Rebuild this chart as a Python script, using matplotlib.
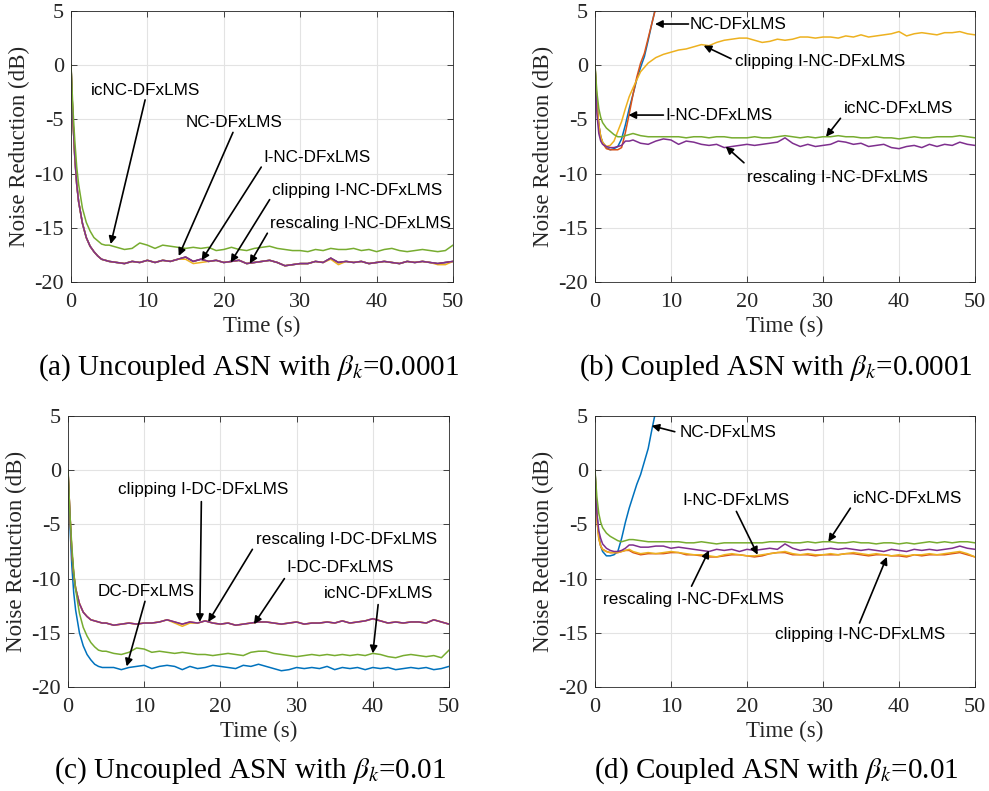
"""
Noise reduction curves of the DFxLMS variants, four ASN scenarios (2x2 panels).
Output: out.png
"""

import matplotlib.pyplot as plt

plt.rcParams["font.family"] = ["Liberation Serif", "DejaVu Serif"]
plt.rcParams["mathtext.fontset"] = "stix"
plt.rcParams["axes.unicode_minus"] = False

# ── time grids (s) ───────────────────────────────────────────────────────────
T = [0, 0.25, 0.5, 0.75, 1, 1.5, 2, 2.5, 3, 3.5, 4, 4.5, 5] + list(range(6, 51))
T_DIV = [0, 0.25, 0.5, 0.75, 1, 1.5, 2, 2.5, 3, 3.5, 4, 4.5, 5,
         5.5, 6, 6.5, 7, 7.5, 8, 8.5]

# ── (a) uncoupled, beta = 0.0001 ─────────────────────────────────────────────
a_ic = [0, -4.0, -7.0, -9.4, -11.0, -13.2, -14.5, -15.3, -15.9, -16.2, -16.5, -16.6, -16.6,
        -16.8, -17.0, -16.9, -16.4, -16.6, -16.9, -16.6, -16.7, -16.8, -16.9,
        -16.8, -16.9, -16.8, -17.1, -17.0, -16.8, -17.0, -17.1, -16.9, -16.8,
        -16.7, -16.9, -17.0, -17.1, -17.1, -17.2, -17.0, -17.1, -16.9, -17.0,
        -17.0, -16.9, -17.1, -17.0, -17.2, -17.0, -16.9, -17.1, -17.2, -17.1,
        -17.0, -17.1, -17.2, -17.1, -16.6]
a_resc = [0, -5.0, -8.5, -11.0, -12.6, -14.6, -15.9, -16.7, -17.2, -17.6, -17.9, -18.0, -18.1,
          -18.2, -18.3, -18.1, -18.2, -18.0, -18.2, -18.0, -18.1, -17.9, -17.7,
          -18.1, -17.9, -18.1, -18.0, -18.2, -18.1, -18.0, -18.3, -18.2, -18.1,
          -18.0, -18.2, -18.5, -18.4, -18.3, -18.3, -18.1, -18.2, -17.8, -18.2,
          -18.1, -18.2, -18.1, -18.3, -18.2, -18.1, -18.2, -18.3, -18.1, -18.2,
          -18.1, -18.2, -18.3, -18.2, -18.1]
a_clip = [0, -5.0, -8.5, -11.0, -12.6, -14.6, -15.9, -16.7, -17.2, -17.6, -17.9, -18.0, -18.1,
          -18.2, -18.3, -18.1, -18.2, -18.0, -18.2, -18.0, -18.1, -17.9, -17.9,
          -18.3, -18.2, -18.1, -18.0, -18.2, -18.1, -18.0, -18.3, -18.2, -18.1,
          -18.0, -18.2, -18.5, -18.4, -18.3, -18.3, -18.1, -18.2, -17.9, -18.4,
          -18.1, -18.2, -18.1, -18.3, -18.2, -18.1, -18.2, -18.3, -18.1, -18.2,
          -18.1, -18.2, -18.4, -18.4, -18.1]
a_nc = list(a_resc)    # these two coincide with the rescaling curve
a_inc = list(a_resc)

# ── (b) coupled, beta = 0.0001 ───────────────────────────────────────────────
b_nc = [0, -3.5, -5.5, -6.6, -7.1, -7.6, -7.8, -7.7, -7.5, -6.8, -5.5, -4.0, -2.7,
        -1.3, -0.2, 0.8, 2.3, 3.9, 5.4, 7.0]
b_inc = [0, -3.5, -5.5, -6.6, -7.2, -7.7, -7.8, -7.8, -7.8, -7.6, -6.2, -4.5, -2.7,
         -1.1, 0.2, 1.1, 2.5, 3.9, 5.3, 6.8]
b_clip = [0, -3.5, -5.5, -6.6, -7.1, -7.5, -7.4, -7.0, -6.1, -5.2, -4.0, -2.9, -2.1,
          -0.6, 0.2, 0.7, 1.0, 1.2, 1.4, 1.5, 1.7, 1.9, 1.8,
          2.1, 2.3, 2.4, 2.5, 2.5, 2.3, 2.1, 2.2, 2.4, 2.3,
          2.4, 2.6, 2.6, 2.5, 2.6, 2.6, 2.5, 2.7, 2.6, 2.8,
          2.6, 2.7, 2.8, 2.9, 3.1, 2.7, 2.9, 3.0, 2.9, 2.8,
          3.0, 3.0, 3.1, 2.9, 2.8]
b_ic = [0, -2.5, -4.0, -4.8, -5.3, -5.8, -6.1, -6.4, -6.6, -6.6, -6.5, -6.4, -6.3,
        -6.5, -6.6, -6.6, -6.6, -6.6, -6.6, -6.7, -6.6, -6.6, -6.7,
        -6.6, -6.6, -6.7, -6.7, -6.7, -6.6, -6.7, -6.7, -6.6, -6.5,
        -6.6, -6.7, -6.6, -6.7, -6.6, -6.6, -6.5, -6.6, -6.6, -6.7,
        -6.7, -6.6, -6.7, -6.7, -6.8, -6.7, -6.6, -6.7, -6.7, -6.6,
        -6.6, -6.6, -6.5, -6.6, -6.7]
b_resc = [0, -4.5, -6.3, -7.0, -7.3, -7.5, -7.6, -7.6, -7.5, -7.4, -7.0, -7.0, -6.9,
          -7.2, -7.3, -7.0, -6.8, -6.9, -7.3, -7.0, -7.1, -7.3, -7.4,
          -7.3, -7.6, -7.5, -7.4, -7.3, -7.4, -7.3, -7.2, -7.1, -6.7,
          -7.2, -7.5, -7.3, -7.5, -7.4, -7.3, -7.0, -7.1, -7.3, -7.2,
          -7.5, -7.4, -7.3, -7.6, -7.7, -7.5, -7.4, -7.6, -7.3, -7.5,
          -7.3, -7.4, -7.1, -7.3, -7.4]

# ── (c) uncoupled, beta = 0.01 ───────────────────────────────────────────────
c_ic = [0, -4.0, -7.0, -9.4, -11.0, -13.2, -14.5, -15.3, -15.9, -16.3, -16.6, -16.7, -16.7,
        -16.9, -17.0, -16.8, -16.4, -16.5, -16.8, -16.7, -16.8, -16.9, -16.8,
        -16.9, -17.0, -17.0, -17.1, -17.0, -16.9, -17.0, -17.1, -16.8, -16.7,
        -16.7, -16.9, -17.0, -17.1, -17.2, -17.1, -17.0, -17.1, -17.0, -17.1,
        -17.0, -17.1, -17.0, -17.1, -16.9, -17.0, -17.2, -17.3, -17.1, -17.0,
        -17.1, -17.2, -17.1, -17.3, -16.6]
c_dc = [0, -5.0, -8.8, -11.3, -12.9, -15.0, -16.2, -17.0, -17.5, -17.9, -18.1, -18.2, -18.2,
        -18.2, -18.4, -18.2, -18.1, -18.0, -18.3, -18.1, -18.0, -18.1, -18.4,
        -18.1, -18.3, -18.2, -18.0, -18.1, -18.2, -18.3, -18.0, -18.1, -17.9,
        -18.1, -18.3, -18.5, -18.4, -18.2, -18.3, -18.2, -18.3, -18.1, -18.4,
        -18.2, -18.3, -18.2, -18.4, -18.2, -18.3, -18.2, -18.4, -18.3, -18.2,
        -18.3, -18.2, -18.4, -18.3, -18.1]
c_resc = [0, -4.0, -7.5, -9.6, -10.9, -12.3, -13.1, -13.5, -13.8, -13.9, -14.0, -14.1, -14.1,
          -14.3, -14.2, -14.1, -14.2, -14.1, -14.1, -14.0, -13.8, -14.0, -14.2,
          -14.0, -14.1, -13.9, -14.1, -14.2, -14.1, -14.3, -14.2, -14.1, -14.0,
          -14.0, -14.1, -14.2, -14.1, -14.0, -14.2, -14.1, -14.1, -14.0, -14.1,
          -13.9, -14.1, -14.0, -13.9, -13.7, -13.9, -14.1, -14.0, -14.1, -14.0,
          -14.0, -14.1, -13.8, -14.0, -14.2]
c_clip = [0, -4.0, -7.5, -9.6, -10.9, -12.3, -13.1, -13.5, -13.8, -13.9, -14.0, -14.1, -14.1,
          -14.3, -14.2, -14.1, -14.2, -14.1, -14.1, -14.0, -13.8, -14.1, -14.4,
          -14.1, -14.1, -13.9, -14.1, -14.2, -14.1, -14.3, -14.2, -14.1, -14.0,
          -14.0, -14.1, -14.2, -14.1, -14.0, -14.2, -14.1, -14.1, -14.0, -14.1,
          -13.9, -14.1, -14.0, -13.9, -13.7, -13.9, -14.1, -14.0, -14.1, -14.0,
          -14.0, -14.1, -13.8, -14.0, -14.2]
c_idc = list(c_resc)   # coincides with the rescaling curve

# ── (d) coupled, beta = 0.01 ─────────────────────────────────────────────────
d_nc = [0, -4.0, -6.0, -7.0, -7.5, -7.9, -7.9, -7.8, -7.5, -6.3, -4.8, -3.5, -2.4,
        -1.3, -0.4, 0.8, 2.0, 3.8, 5.5, 7.0]
d_ic = [0, -2.5, -4.0, -4.8, -5.3, -5.8, -6.1, -6.3, -6.5, -6.6, -6.5, -6.4, -6.4,
        -6.5, -6.6, -6.6, -6.6, -6.6, -6.6, -6.7, -6.7, -6.6, -6.7,
        -6.8, -6.7, -6.7, -6.7, -6.7, -6.7, -6.7, -6.6, -6.6, -6.6,
        -6.7, -6.7, -6.6, -6.7, -6.6, -6.6, -6.7, -6.7, -6.6, -6.7,
        -6.7, -6.8, -6.7, -6.7, -6.8, -6.7, -6.8, -6.7, -6.6, -6.7,
        -6.6, -6.7, -6.6, -6.6, -6.7]
d_resc = [0, -4.0, -5.6, -6.3, -6.8, -7.2, -7.4, -7.5, -7.5, -7.4, -7.2, -6.9, -6.9,
          -7.1, -7.1, -7.0, -7.0, -7.2, -7.1, -7.2, -7.3, -7.4, -7.5,
          -7.3, -7.4, -7.3, -7.5, -7.3, -7.4, -7.3, -7.2, -7.3, -6.8,
          -7.2, -7.4, -7.3, -7.4, -7.3, -7.2, -7.3, -7.2, -7.3, -7.4,
          -7.3, -7.4, -7.5, -7.3, -7.4, -7.5, -7.3, -7.4, -7.3, -7.4,
          -7.3, -7.2, -7.0, -7.2, -7.3]
d_clip = [0, -4.5, -6.3, -7.0, -7.3, -7.5, -7.6, -7.6, -7.6, -7.5, -7.4, -7.3, -7.5,
          -7.7, -7.6, -7.7, -7.6, -7.5, -7.6, -7.7, -7.8, -7.8, -7.9,
          -8.0, -7.8, -7.7, -7.8, -7.9, -7.9, -7.8, -7.7, -7.6, -7.5,
          -7.7, -7.8, -7.7, -7.8, -7.8, -7.7, -7.8, -7.7, -7.6, -7.7,
          -7.8, -7.7, -7.8, -7.9, -7.8, -7.9, -7.8, -7.8, -7.7, -7.8,
          -7.7, -7.6, -7.5, -7.7, -8.0]
d_inc = [0, -4.5, -6.3, -7.0, -7.3, -7.5, -7.6, -7.6, -7.6, -7.5, -7.4, -7.4, -7.6,
         -7.8, -7.7, -7.7, -7.7, -7.6, -7.6, -7.8, -7.8, -7.9, -8.0,
         -8.0, -7.9, -7.8, -7.8, -7.9, -8.0, -7.9, -7.7, -7.6, -7.6,
         -7.8, -7.8, -7.8, -7.9, -7.8, -7.8, -7.8, -7.7, -7.7, -7.8,
         -7.9, -7.8, -7.8, -7.9, -7.9, -8.0, -7.8, -7.9, -7.8, -7.8,
         -7.8, -7.7, -7.6, -7.8, -8.0]

CAPTIONS = [r"(a) Uncoupled ASN with $\beta_k$=0.0001",
            r"(b) Coupled ASN with $\beta_k$=0.0001",
            r"(c) Uncoupled ASN with $\beta_k$=0.01",
            r"(d) Coupled ASN with $\beta_k$=0.01"]

# MATLAB default colour order
BLUE, RED, YELLOW, PURPLE, GREEN = "#0072BD", "#D95319", "#EDB120", "#7E2F8E", "#77AC30"

# (text, text_x, text_y, ha, arrow start, arrow tip)  -- in data units
LABELS = [
    [("icNC-DFxLMS", 9.8, -2.3, "center", (9.7, -3.2), (5.2, -16.5)),
     ("NC-DFxLMS", 21.4, -5.3, "center", (21.2, -6.2), (14.1, -17.6)),
     ("I-NC-DFxLMS", 32.2, -8.5, "center", (24.9, -9.4), (17.1, -18.0)),
     ("clipping I-NC-DFxLMS", 37.5, -11.6, "center", (26.0, -12.4), (20.9, -18.2)),
     ("rescaling I-NC-DFxLMS", 37.9, -14.6, "center", (25.7, -15.5), (23.4, -18.3))],
    [("NC-DFxLMS", 12.5, 3.8, "left", (12.3, 3.8), (7.9, 3.8)),
     ("clipping I-NC-DFxLMS", 18.4, 0.3, "left", (17.9, 0.6), (14.3, 1.8)),
     ("I-NC-DFxLMS", 9.2, -4.6, "left", (9.0, -4.6), (4.4, -4.6)),
     ("icNC-DFxLMS", 39.9, -4.0, "center", (32.3, -4.9), (30.4, -6.6)),
     ("rescaling I-NC-DFxLMS", 31.9, -10.4, "center", (19.6, -9.0), (17.2, -7.5))],
    [("clipping I-DC-DFxLMS", 17.8, -1.8, "center", (17.5, -2.9), (17.3, -14.0)),
     ("rescaling I-DC-DFxLMS", 36.5, -6.4, "center", (24.2, -7.3), (18.4, -14.0)),
     ("I-DC-DFxLMS", 35.7, -9.0, "center", (28.4, -10.0), (24.4, -14.2)),
     ("icNC-DFxLMS", 40.8, -11.4, "center", (40.7, -12.4), (40.0, -16.9)),
     ("DC-DFxLMS", 10.3, -11.2, "center", (10.1, -12.1), (7.7, -18.1))],
    [("NC-DFxLMS", 11.1, 3.5, "left", (10.5, 3.55), (7.45, 4.1)),
     ("I-NC-DFxLMS", 18.6, -2.75, "center", (18.6, -3.8), (21.4, -7.8)),
     ("icNC-DFxLMS", 41.1, -2.6, "center", (33.6, -3.5), (30.7, -6.6)),
     ("rescaling I-NC-DFxLMS", 12.9, -11.9, "center", (12.7, -10.7), (15.0, -7.4)),
     ("clipping I-NC-DFxLMS", 34.9, -15.2, "center", (34.8, -14.1), (38.4, -8.0))],
]


def style_axes(ax):
    ax.set_xlim(0, 50)
    ax.set_ylim(-20, 5)
    ax.set_xticks(range(0, 51, 10))
    ax.set_yticks(range(-20, 6, 5))
    ax.grid(True, color="#e3e3e3", linewidth=0.8)
    ax.set_axisbelow(True)
    ax.tick_params(direction="in", top=True, right=True, labelsize=16,
                   colors="#262626", length=4, width=0.6, pad=5)
    ax.tick_params(axis="x", pad=8)
    for s in ax.spines.values():
        s.set_color("#262626")
        s.set_linewidth(0.6)
    ax.set_xlabel("Time (s)", fontsize=16.5, color="#262626", labelpad=3)
    ax.set_ylabel("Noise Reduction (dB)", fontsize=16.5, color="#262626", labelpad=3)


def add_labels(ax, items):
    for text, tx, ty, ha, start, tip in items:
        ax.text(tx, ty, text, ha=ha, va="center", fontsize=12.3,
                family=["Liberation Sans", "DejaVu Sans"])
        ax.annotate("", xy=tip, xytext=start,
                    arrowprops=dict(arrowstyle="-|>", color="k", lw=1.2,
                                    mutation_scale=11, shrinkA=0, shrinkB=0))


def main():
    fig = plt.figure(figsize=(9.89, 7.91), dpi=100)
    W, H = 989, 791
    boxes = [(71, 11, 453, 282), (595, 11, 975, 282),
             (68, 416, 449, 687), (595, 416, 975, 687)]
    axes = [fig.add_axes([x0 / W, 1 - y1 / H, (x1 - x0) / W, (y1 - y0) / H])
            for x0, y0, x1, y1 in boxes]
    lw = 1.1

    # (a)
    ax = axes[0]
    ax.plot(T, a_nc, color=BLUE, lw=lw)
    ax.plot(T, a_inc, color=RED, lw=lw)
    ax.plot(T, a_clip, color=YELLOW, lw=lw)
    ax.plot(T, a_resc, color=PURPLE, lw=lw)
    ax.plot(T, a_ic, color=GREEN, lw=lw)

    # (b)
    ax = axes[1]
    ax.plot(T_DIV, b_nc, color=BLUE, lw=lw)
    ax.plot(T_DIV, b_inc, color=RED, lw=lw)
    ax.plot(T, b_clip, color=YELLOW, lw=lw)
    ax.plot(T, b_resc, color=PURPLE, lw=lw)
    ax.plot(T, b_ic, color=GREEN, lw=lw)

    # (c)
    ax = axes[2]
    ax.plot(T, c_dc, color=BLUE, lw=lw)
    ax.plot(T, c_idc, color=RED, lw=lw)
    ax.plot(T, c_clip, color=YELLOW, lw=lw)
    ax.plot(T, c_resc, color=PURPLE, lw=lw)
    ax.plot(T, c_ic, color=GREEN, lw=lw)

    # (d)
    ax = axes[3]
    ax.plot(T_DIV, d_nc, color=BLUE, lw=lw)
    ax.plot(T, d_inc, color=RED, lw=lw)
    ax.plot(T, d_clip, color=YELLOW, lw=lw)
    ax.plot(T, d_resc, color=PURPLE, lw=lw)
    ax.plot(T, d_ic, color=GREEN, lw=lw)

    for ax, items in zip(axes, LABELS):
        style_axes(ax)
        add_labels(ax, items)

    caption_pos = [(249, 368), (776, 368), (250, 771), (776, 771)]
    for (cx, cy), cap in zip(caption_pos, CAPTIONS):
        fig.text(cx / W, 1 - cy / H, cap, ha="center", va="center", fontsize=21)

    fig.savefig("out.png", dpi=100)


if __name__ == "__main__":
    main()
